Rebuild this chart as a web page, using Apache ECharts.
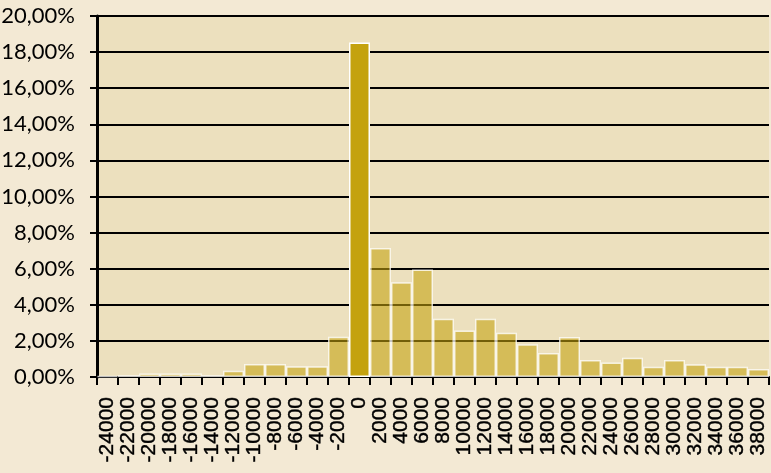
<!DOCTYPE html>
<html>
<head>
<meta charset="utf-8">
<script src="https://cdn.jsdelivr.net/npm/echarts@6/dist/echarts.min.js"></script>
<style>
html,body{margin:0;padding:0;background:#F3E9D4;}
#c{width:771px;height:473px;}
</style>
</head>
<body>
<div id="c"></div>
<script>
var categories = ['-24000','-22000','-20000','-18000','-16000','-14000','-12000','-10000','-8000','-6000','-4000','-2000','0','2000','4000','6000','8000','10000','12000','14000','16000','18000','20000','22000','24000','26000','28000','30000','32000','34000','36000','38000'];
var values = [0.05,0.1,0.2,0.2,0.2,0.1,0.35,0.72,0.72,0.59,0.59,2.23,18.53,7.15,5.25,5.95,3.23,2.58,3.23,2.45,1.82,1.33,2.21,0.94,0.81,1.07,0.57,0.94,0.70,0.57,0.57,0.44];
var yTicks = { min: 0, max: 20, interval: 2 };

var chart = echarts.init(document.getElementById('c'));
var data = values.map(function (v, i) {
  var isZero = categories[i] === '0';
  return {
    value: v,
    itemStyle: isZero ? { color: '#C4A20E', borderColor: '#FFFFFF' } : { color: 'rgba(196,162,14,0.58)', borderColor: 'rgba(255,255,255,0.75)' }
  };
});
chart.setOption({
  backgroundColor: '#F3E9D4',
  animation: false,
  grid: { left: 97, right: 2, top: 16, bottom: 96, show: true, backgroundColor: '#ECE0BE', borderWidth: 0, containLabel: false, outerBoundsMode: 'none' },
  xAxis: {
    type: 'category',
    data: categories,
    boundaryGap: true,
    axisLine: { lineStyle: { color: '#000', width: 2 } },
    axisTick: { show: true, length: 8, lineStyle: { color: '#000', width: 2 } },
    axisLabel: { interval: 0, rotate: 90, margin: 20, color: '#000', fontFamily: 'Liberation Sans', fontSize: 21, textBorderColor: '#000', textBorderWidth: 0.4 }
  },
  yAxis: {
    type: 'value',
    min: yTicks.min, max: yTicks.max, interval: yTicks.interval,
    axisLine: { show: true, lineStyle: { color: '#000', width: 3 } },
    axisTick: { show: true, length: 7, lineStyle: { color: '#000', width: 2 } },
    splitLine: { show: true, lineStyle: { color: '#000', width: 2 } },
    axisLabel: {
      margin: 22, color: '#000', fontFamily: 'Lato', fontSize: 22,
      formatter: function (v) { return v.toFixed(2).replace('.', ',') + '%'; }
    }
  },
  series: [{
    type: 'bar',
    data: data,
    barCategoryGap: '0%',
    itemStyle: { borderWidth: 1.5 }
  }]
});
</script>
</body>
</html>
